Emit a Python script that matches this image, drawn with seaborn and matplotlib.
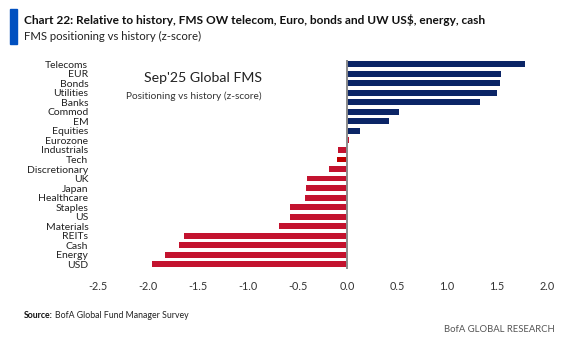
import matplotlib
matplotlib.use("Agg")
import matplotlib.pyplot as plt
import seaborn as sns
import pandas as pd
from matplotlib.patches import Rectangle

# FMS positioning vs history (z-score), Sep'25
categories = ["Telecoms", "EUR", "Bonds", "Utilities", "Banks", "Commod", "EM",
              "Equities", "Eurozone", "Industrials", "Tech", "Discretionary", "UK",
              "Japan", "Healthcare", "Staples", "US", "Materials", "REITs", "Cash",
              "Energy", "USD"]
zscores = [1.78, 1.54, 1.53, 1.50, 1.33, 0.52, 0.42,
           0.13, 0.02, -0.09, -0.10, -0.18, -0.41,
           -0.42, -0.43, -0.58, -0.58, -0.69, -1.64, -1.69,
           -1.83, -1.96]
x_ticks = [-2.5, -2.0, -1.5, -1.0, -0.5, 0.0, 0.5, 1.0, 1.5, 2.0]

NAVY = "#0b2566"
RED = "#c3132f"
DARK_RED = "#c00000"

sns.set_theme(style="white")
plt.rcParams["font.family"] = ["Lato", "DejaVu Sans"]

df = pd.DataFrame({"category": categories, "z": zscores})
colors = {}
for c, v in zip(categories, zscores):
    colors[c] = NAVY if v > 0.05 else RED
colors["Tech"] = DARK_RED

fig = plt.figure(figsize=(5.65, 3.42), dpi=100)
ax = fig.add_axes([98 / 565, 1 - 269 / 342, (547 - 98) / 565, (269 - 59.5) / 342])

sns.barplot(data=df, x="z", y="category", hue="category", palette=colors,
            legend=False, width=0.62, saturation=1, linewidth=0, ax=ax, orient="h")

ax.set_xlim(-2.5, 2.0)
ax.set_xticks(x_ticks)
ax.set_xticklabels([f"{t:.1f}" for t in x_ticks], fontsize=7.8, color="#333333")
ax.tick_params(axis="x", length=0, pad=9)
ax.tick_params(axis="y", length=0, pad=7, labelsize=7.5, labelcolor="#222222")
ax.set_xlabel("")
ax.set_ylabel("")
for s in ax.spines.values():
    s.set_visible(False)
ax.axvline(0, color="#8a8a8a", lw=1.4, zorder=3)

# in-chart heading
fig.text(262 / 565, 1 - 78 / 342, "Sep'25 Global FMS", ha="right", va="center",
         fontsize=10.2, color="#222222")
fig.text(262 / 565, 1 - 96 / 342, "Positioning vs history (z-score)", ha="right",
         va="center", fontsize=7.3, color="#333333")

# header block
fig.patches.append(Rectangle((10 / 565, 1 - 44 / 342), 7 / 565, 35 / 342,
                             transform=fig.transFigure, color="#0050c0"))
fig.text(24 / 565, 1 - 20 / 342,
         "Chart 22: Relative to history, FMS OW telecom, Euro, bonds and UW US$, energy, cash",
         ha="left", va="center", fontsize=8.6, fontweight="bold", color="#111111")
fig.text(24 / 565, 1 - 36 / 342, "FMS positioning vs history (z-score)",
         ha="left", va="center", fontsize=8.2, color="#222222")

# footer
t = fig.text(24 / 565, 1 - 315 / 342, "Source:", ha="left", va="center",
             fontsize=6.3, fontweight="bold", color="#111111")
fig.canvas.draw()
bb = t.get_window_extent()
fig.text(bb.x1 / fig.bbox.width + 0.003, 1 - 315 / 342, "BofA Global Fund Manager Survey",
         ha="left", va="center", fontsize=6.3, color="#222222")
fig.text(555 / 565, 1 - 329 / 342, "BofA GLOBAL RESEARCH", ha="right", va="center",
         fontsize=6.8, color="#555555")

fig.savefig("out.png", dpi=100, facecolor="white")
